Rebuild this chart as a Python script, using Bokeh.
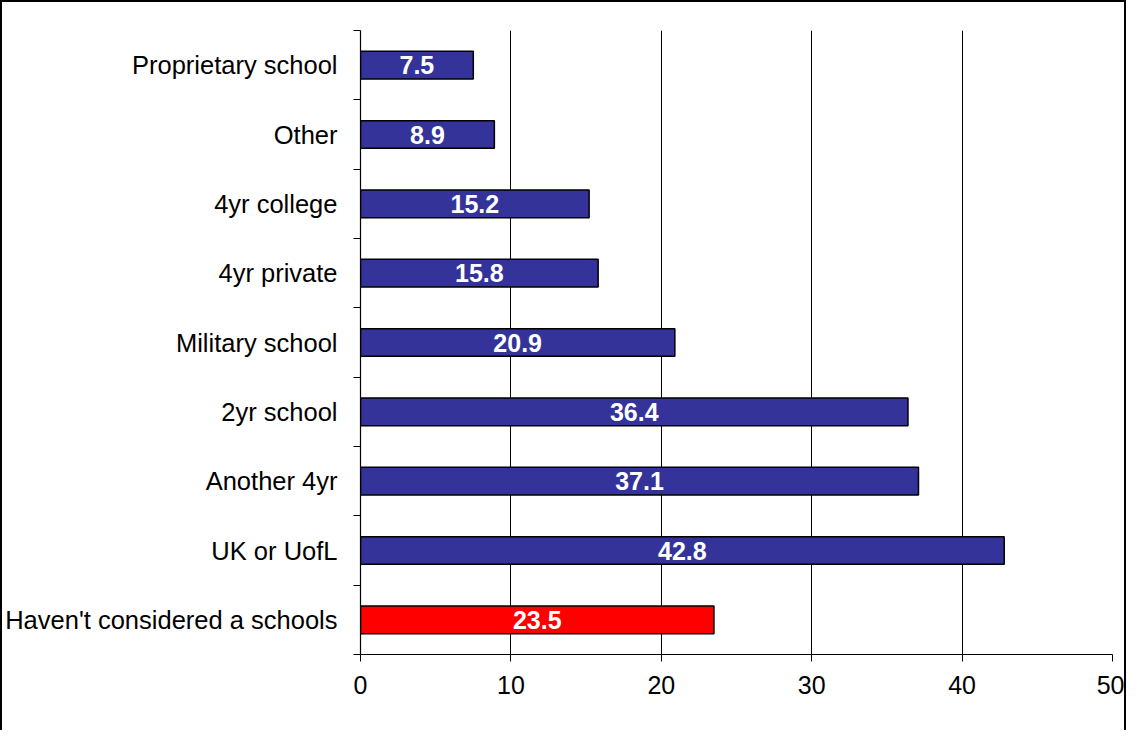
from bokeh.plotting import figure
from bokeh.models import FixedTicker, ColumnDataSource, Range1d
from bokeh.core.properties import value
from bokeh.embed import file_html
from bokeh.resources import INLINE

# Data (bottom to top)
categories = ["Haven't considered a schools", "UK or UofL", "Another 4yr", "2yr school",
              "Military school", "4yr private", "4yr college", "Other", "Proprietary school"]
values = [23.5, 42.8, 37.1, 36.4, 20.9, 15.8, 15.2, 8.9, 7.5]
colors = ["#FF0000"] + ["#333399"] * 8
x_ticks = [0, 10, 20, 30, 40, 50]

pos = [i + 0.5 for i in range(len(categories))]
src = ColumnDataSource(dict(
    y=pos, v=values, c=colors, mid=[v / 2 for v in values],
    lab=[f"{v:.1f}" for v in values],
))

FONT = "Liberation Sans"

p = figure(width=1126, height=730, output_backend="svg", toolbar_location=None,
           x_range=Range1d(0, 50), y_range=Range1d(0, len(categories)),
           min_border_left=357, min_border_right=16, min_border_top=28, min_border_bottom=78)
p.styles = {"border-top": "2px solid black", "border-left": "2px solid black",
            "border-right": "2px solid black", "box-sizing": "border-box"}
p.outline_line_color = None
p.background_fill_color = "white"
p.border_fill_color = "white"

p.hbar(y="y", right="v", left=0, height=0.4, fill_color="c", line_color="black",
       line_width=1.5, source=src)
p.text(x="mid", y="y", text="lab", text_color="white", text_font=value(FONT),
       text_font_style="bold", text_font_size="25px", text_align="center",
       text_baseline="middle", source=src)

# x axis
p.xaxis.ticker = FixedTicker(ticks=x_ticks, minor_ticks=[])
p.xaxis.axis_line_color = "black"
p.xaxis.axis_line_width = 1.2
p.xaxis.major_tick_line_color = "black"
p.xaxis.major_tick_out = 7
p.xaxis.major_tick_in = 0
p.xaxis.major_label_text_font = FONT
p.xaxis.major_label_text_font_size = "25px"
p.xaxis.major_label_text_color = "black"
p.xaxis.major_label_standoff = 14

# y axis
p.yaxis.ticker = FixedTicker(ticks=pos, minor_ticks=list(range(len(categories) + 1)))
p.yaxis.major_label_overrides = {pp: c for pp, c in zip(pos, categories)}
p.yaxis.major_tick_out = 0
p.yaxis.major_tick_in = 0
p.yaxis.minor_tick_out = 7
p.yaxis.minor_tick_in = 0
p.yaxis.minor_tick_line_color = "black"
p.yaxis.axis_line_color = "black"
p.yaxis.axis_line_width = 1.2
p.yaxis.major_label_text_font = FONT
p.yaxis.major_label_text_font_size = "25.5px"
p.yaxis.major_label_text_color = "black"
p.yaxis.major_label_standoff = 16

p.ygrid.grid_line_color = None
p.xgrid.grid_line_color = "black"
p.xgrid.grid_line_width = 1
p.xgrid.ticker = FixedTicker(ticks=[10, 20, 30, 40, 50])

open("out.html", "w").write(file_html(p, INLINE))
